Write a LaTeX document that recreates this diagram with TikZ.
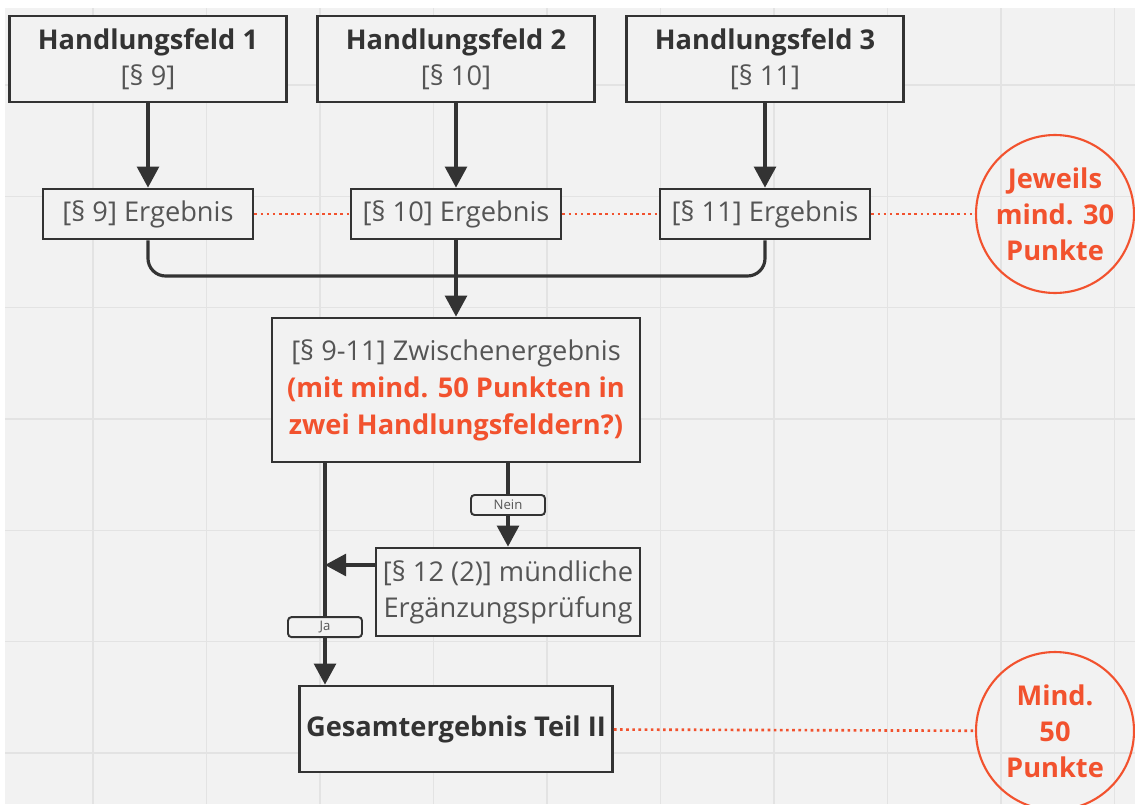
\documentclass[tikz,border=0pt]{standalone}
\usepackage{fontspec}
\setmainfont{Open Sans}
\usetikzlibrary{arrows.meta}

\definecolor{boardgray}{HTML}{F2F2F2}
\definecolor{gridgray}{HTML}{E3E3E3}
\definecolor{linegray}{HTML}{333333}
\definecolor{textgray}{HTML}{555555}
\definecolor{notered}{HTML}{F2522E}

\tikzset{
    box/.style={draw=linegray, line width=1.6pt, fill=boardgray, inner sep=0pt,
        align=center, text=textgray, font=\fontsize{15.5}{20.5}\selectfont},
    flow/.style={draw=linegray, line width=1.8pt, -{Triangle[width=12.5pt, length=12pt]}},
    joint/.style={draw=linegray, line width=1.8pt},
    link/.style={draw=notered, line width=1.5pt, dash pattern=on 1.5pt off 2pt},
    note/.style={circle, draw=notered, line width=1.2pt, minimum size=3.16cm, inner sep=0pt,
        align=center, text=notered, font=\fontsize{15.5}{20.5}\selectfont\bfseries},
    tag/.style={draw=linegray, fill=boardgray, rounded corners=2pt, line width=1.1pt,
        minimum width=1.48cm, minimum height=0.4cm, inner sep=0pt, text=textgray,
        font=\fontsize{7.5}{8}\selectfont}
}

\newcommand{\headline}[1]{\textcolor{linegray}{\bfseries #1}}

\begin{document}
\begin{tikzpicture}[x=0.02cm, y=-0.02cm]

    % Board with grid
    \useasboundingbox (0,0) rectangle (1135,804);
    \fill[boardgray] (5,8) rectangle (1135,804);
    \foreach \i in {0,...,9}
        \draw[gridgray, line width=0.8pt] ({93+113.5*\i},8) -- ({93+113.5*\i},804);
    \foreach \j in {0,...,6}
        \draw[gridgray, line width=0.8pt] (5,{85+111.3*\j}) -- (1135,{85+111.3*\j});

    % Handlungsfelder
    \node[box, minimum width=5.54cm, minimum height=1.72cm] (hf1) at (148,59) {\headline{Handlungsfeld 1}\\{}[§ 9]};
    \node[box, minimum width=5.54cm, minimum height=1.72cm] (hf2) at (456,59) {\headline{Handlungsfeld 2}\\{}[§ 10]};
    \node[box, minimum width=5.54cm, minimum height=1.72cm] (hf3) at (765,59) {\headline{Handlungsfeld 3}\\{}[§ 11]};

    % Results of each field
    \node[box, minimum width=4.2cm, minimum height=1cm] (e1) at (148,214) {[§ 9] Ergebnis};
    \node[box, minimum width=4.2cm, minimum height=1cm] (e2) at (456,214) {[§ 10] Ergebnis};
    \node[box, minimum width=4.2cm, minimum height=1cm] (e3) at (765,214) {[§ 11] Ergebnis};

    % Intermediate result
    \node[box, minimum width=7.36cm, minimum height=2.88cm, font=\fontsize{15.5}{21}\selectfont] (zw) at (456,390)
        {[§ 9-11] Zwischenergebnis\\\textcolor{notered}{\bfseries (mit mind. 50 Punkten in}\\\textcolor{notered}{\bfseries zwei Handlungsfeldern?)}};

    % Oral exam
    \node[box, minimum width=5.28cm, minimum height=1.76cm] (muend) at (508,592)
        {[§ 12 (2)] mündliche\\Ergänzungsprüfung};

    % Total result
    \node[box, minimum width=6.26cm, minimum height=1.72cm] (gesamt) at (456,729) {\headline{Gesamtergebnis Teil II}};

    % Notes
    \node[note] (jeweils) at (1055,214) {Jeweils\\mind. 30\\Punkte};
    \node[note] (mind) at (1055,731) {Mind.\\50\\Punkte};

    % Draw arrows from fields to results
    \draw[flow] (hf1) -- (e1);
    \draw[flow] (hf2) -- (e2);
    \draw[flow] (hf3) -- (e3);

    % Draw merge of the results
    \coordinate (merge) at (456,276);
    \draw[joint, rounded corners=10pt] (e1.south) |- (merge);
    \draw[joint, rounded corners=10pt] (e3.south) |- (merge);
    \draw[flow] (e2) -- (zw);

    % Draw decision branches
    \coordinate (jaline) at (325,565);
    \draw[flow] (zw.south -| muend.north) -- node[tag]{Nein} (muend.north);
    \draw[flow] (muend.west |- jaline) -- (jaline);
    \draw[flow] (zw.south -| jaline) -- node[tag, pos=0.74]{Ja} (gesamt.north -| jaline);

    % Draw dotted links to the notes
    \draw[link] (e1) -- (e2);
    \draw[link] (e2) -- (e3);
    \draw[link] (e3) -- (jeweils);
    \draw[link] (gesamt) -- (mind);

\end{tikzpicture}
\end{document}
